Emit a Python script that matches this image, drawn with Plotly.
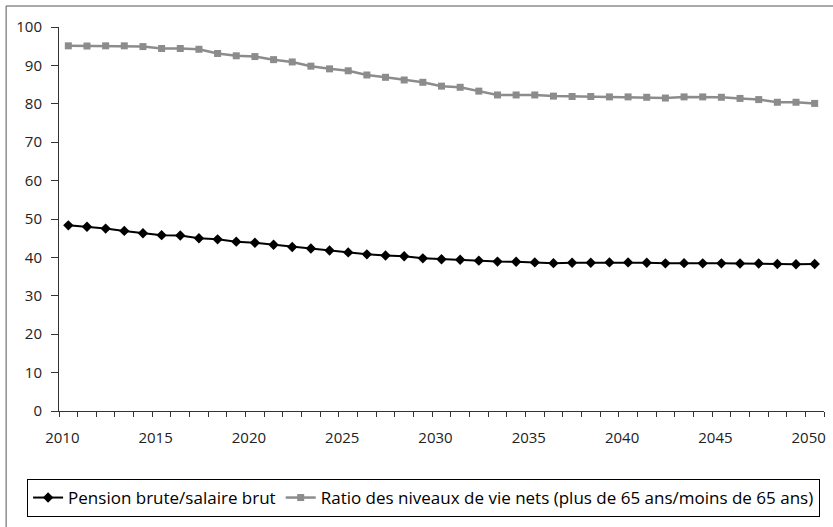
import plotly.graph_objects as go

years = list(range(2010, 2051))
pension_brute = [48.35, 48.0, 47.5, 46.9, 46.3, 45.8, 45.7, 45.0, 44.7, 44.1,
                 43.8, 43.3, 42.7, 42.3, 41.8, 41.3, 40.8, 40.5, 40.3, 39.75,
                 39.5, 39.4, 39.15, 38.9, 38.85, 38.7, 38.5, 38.6, 38.6, 38.7,
                 38.7, 38.6, 38.45, 38.5, 38.45, 38.45, 38.4, 38.4, 38.3, 38.2, 38.3]
ratio_niveaux = [95.1, 95.05, 95.1, 95.1, 94.9, 94.4, 94.4, 94.2, 93.1, 92.5,
                 92.3, 91.5, 90.9, 89.8, 89.1, 88.6, 87.5, 86.9, 86.2, 85.6,
                 84.6, 84.3, 83.3, 82.3, 82.3, 82.3, 82.0, 81.9, 81.9, 81.8,
                 81.8, 81.7, 81.5, 81.8, 81.8, 81.7, 81.4, 81.1, 80.4, 80.4, 80.1]
x_tick_years = [2010, 2015, 2020, 2025, 2030, 2035, 2040, 2045, 2050]
y_ticks = [0, 10, 20, 30, 40, 50, 60, 70, 80, 90, 100]
names = ["Pension brute/salaire brut",
         "Ratio des niveaux de vie nets (plus de 65 ans/moins de 65 ans)"]

W, H = 833, 527
L, R, T, B = 59, 7, 27, 116
pw, ph = W - L - R, H - T - B

def px_x(p):
    return (p - L) / pw

def px_y(p):
    return (H - B - p) / ph

fig = go.Figure()
fig.add_trace(go.Scatter(
    x=years, y=pension_brute, name=names[0], mode="lines+markers",
    line=dict(color="#000000", width=2),
    marker=dict(symbol="diamond", size=8, color="#000000"),
))
fig.add_trace(go.Scatter(
    x=years, y=ratio_niveaux, name=names[1], mode="lines+markers",
    line=dict(color="#8c8c8c", width=2.5),
    marker=dict(symbol="square", size=7, color="#8c8c8c"),
))

tick_font = dict(family="Open Sans", size=15, color="#222222")

fig.update_layout(
    width=W, height=H,
    margin=dict(l=L, r=R, t=T, b=B, pad=0),
    paper_bgcolor="white", plot_bgcolor="white",
    showlegend=True,
    legend=dict(
        orientation="h", x=px_x(27), y=px_y(479), xanchor="left", yanchor="top",
        bordercolor="#000000", borderwidth=1,
        font=dict(family="Open Sans", size=17, color="#000000"),
        itemwidth=30, tracegroupgap=0,
    ),
    xaxis=dict(
        range=[2009.5, 2050.5], showgrid=False, zeroline=False,
        showline=True, linecolor="#333333", linewidth=1,
        tickmode="array", tickvals=x_tick_years,
        ticktext=[str(v) for v in x_tick_years],
        ticks="", tickfont=tick_font, ticklabelshift=-6, ticklabelstandoff=13,
        minor=dict(ticks="outside", tick0=2009.5, dtick=1, ticklen=5,
                   tickcolor="#333333", tickwidth=1, showgrid=False),
    ),
    yaxis=dict(
        range=[0, 100], showgrid=False, zeroline=False,
        showline=True, linecolor="#333333", linewidth=1,
        tickmode="array", tickvals=y_ticks,
        ticks="outside", ticklen=7, tickcolor="#333333", tickwidth=1,
        tickfont=tick_font, ticklabelstandoff=6,
    ),
    shapes=[
        dict(type="line", xref="paper", yref="paper",
             x0=px_x(6), x1=px_x(W + 5), y0=px_y(6), y1=px_y(6),
             line=dict(color="#555555", width=1)),
        dict(type="line", xref="paper", yref="paper",
             x0=px_x(6), x1=px_x(6), y0=px_y(6), y1=px_y(H + 5),
             line=dict(color="#555555", width=1)),
    ],
)

fig.write_html("out.html")
